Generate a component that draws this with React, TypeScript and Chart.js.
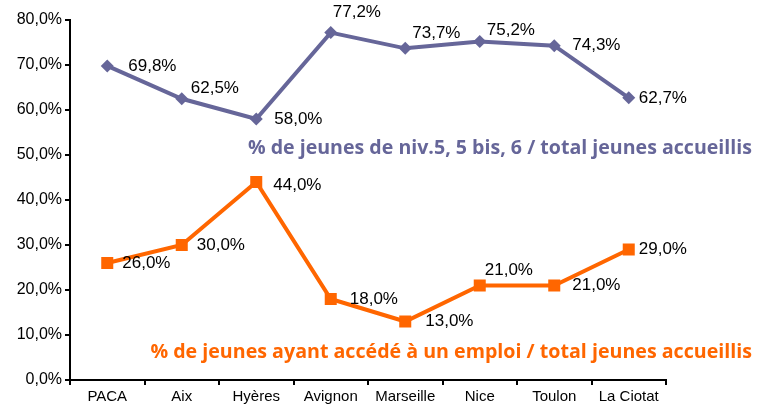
import React, { useEffect, useRef } from "react";
import { Chart, registerables } from "chart.js";

Chart.register(...registerables);

const categories = ["PACA", "Aix", "Hyères", "Avignon", "Marseille", "Nice", "Toulon", "La Ciotat"];
const niveauValues = [69.8, 62.5, 58.0, 77.2, 73.7, 75.2, 74.3, 62.7];
const emploiValues = [26.0, 30.0, 44.0, 18.0, 13.0, 21.0, 21.0, 29.0];
const yTicks = [0, 10, 20, 30, 40, 50, 60, 70, 80];

const niveauTitle = "% de jeunes de niv.5, 5 bis, 6 / total jeunes accueillis";
const emploiTitle = "% de jeunes ayant accédé à un emploi / total jeunes accueillis";

// label offsets (style): pixels relative to the point
const niveauLabelDx = [21, 9, 18, 2, 7, 7, 18, 10];
const niveauLabelDy = [0, -10, 0, -20, -15, -11, 0, 0];
const emploiLabelDx = [15, 15, 17, 19, 20, 5, 18, 10];
const emploiLabelDy = [0, 0, 3, 0, 0, -15, 0, 0];

const PURPLE = "#666699";
const ORANGE = "#FF6600";
const TITLE_FONT = "'Open Sans', Lato, sans-serif";

const fmt = (v: number) => v.toFixed(1).replace(".", ",") + "%";

function drawFitted(ctx: any, text: string, x: number, y: number, width: number) {
  ctx.font = `bold 20px ${TITLE_FONT}`;
  const w = ctx.measureText(text).width;
  const size = (20 * width) / w;
  ctx.font = `bold ${size.toFixed(2)}px ${TITLE_FONT}`;
  ctx.fillText(text, x, y);
}

const labelPlugin = {
  id: "labels",
  afterDatasetsDraw(chart: any) {
    const ctx = chart.ctx;
    ctx.save();
    ctx.fillStyle = "#000";
    ctx.font = "17px 'Liberation Sans', Arial, sans-serif";
    ctx.textAlign = "left";
    ctx.textBaseline = "middle";
    const sets = [
      { idx: 0, vals: niveauValues, dx: niveauLabelDx, dy: niveauLabelDy },
      { idx: 1, vals: emploiValues, dx: emploiLabelDx, dy: emploiLabelDy },
    ];
    sets.forEach((s) => {
      const meta = chart.getDatasetMeta(s.idx);
      meta.data.forEach((el: any, i: number) => {
        ctx.fillText(fmt(s.vals[i]), el.x + s.dx[i], el.y + s.dy[i]);
      });
    });
    // series titles
    const yScale = chart.scales.y;
    const right = chart.chartArea.right + 86;
    ctx.textAlign = "right";
    ctx.fillStyle = PURPLE;
    drawFitted(ctx, niveauTitle, right, yScale.getPixelForValue(51.5), 504);
    ctx.fillStyle = ORANGE;
    drawFitted(ctx, emploiTitle, right, yScale.getPixelForValue(6.2), 602);
    ctx.restore();
  },
};

export default function App() {
  const ref = useRef<HTMLCanvasElement | null>(null);
  useEffect(() => {
    document.body.style.margin = "0";
    const chart = new Chart(ref.current as HTMLCanvasElement, {
      type: "line",
      data: {
        labels: categories,
        datasets: [
          {
            data: niveauValues,
            borderColor: PURPLE,
            backgroundColor: PURPLE,
            borderWidth: 4,
            pointStyle: "rectRot",
            pointRadius: 6.5,
            pointBorderWidth: 0,
            tension: 0,
          },
          {
            data: emploiValues,
            borderColor: ORANGE,
            backgroundColor: ORANGE,
            borderWidth: 4,
            pointStyle: "rect",
            pointRadius: 8.5,
            pointBorderWidth: 0,
            tension: 0,
          },
        ],
      },
      options: {
        responsive: false,
        animation: false,
        layout: { padding: { top: 20, right: 92, left: 0, bottom: 0 } },
        plugins: { legend: { display: false }, tooltip: { enabled: false } },
        scales: {
          x: {
            type: "category",
            offset: true,
            grid: { display: true, drawOnChartArea: false, offset: true, tickLength: 5, color: "#000", lineWidth: 2 },
            border: { display: true, color: "#000", width: 2 },
            ticks: {
              color: "#000",
              font: { family: "'Liberation Sans', Arial, sans-serif", size: 15 },
              maxRotation: 0,
              autoSkip: false,
            },
            afterFit: (s: any) => {
              s.height = 28;
            },
          },
          y: {
            min: 0,
            max: 80,
            afterBuildTicks: (s: any) => {
              s.ticks = yTicks.map((v) => ({ value: v }));
            },
            grid: { display: true, drawOnChartArea: false, tickLength: 5, color: "#000", lineWidth: 2 },
            border: { display: true, color: "#000", width: 2 },
            ticks: {
              color: "#000",
              padding: 3,
              font: { family: "'Liberation Sans', Arial, sans-serif", size: 16 },
              callback: (v: any) => fmt(Number(v)),
            },
            afterFit: (s: any) => {
              s.width = 70;
            },
          },
        },
      },
      plugins: [labelPlugin],
    } as any);
    return () => chart.destroy();
  }, []);
  return (
    <div style={{ width: 758, height: 408 }}>
      <canvas ref={ref} width={758} height={408} />
    </div>
  );
}
